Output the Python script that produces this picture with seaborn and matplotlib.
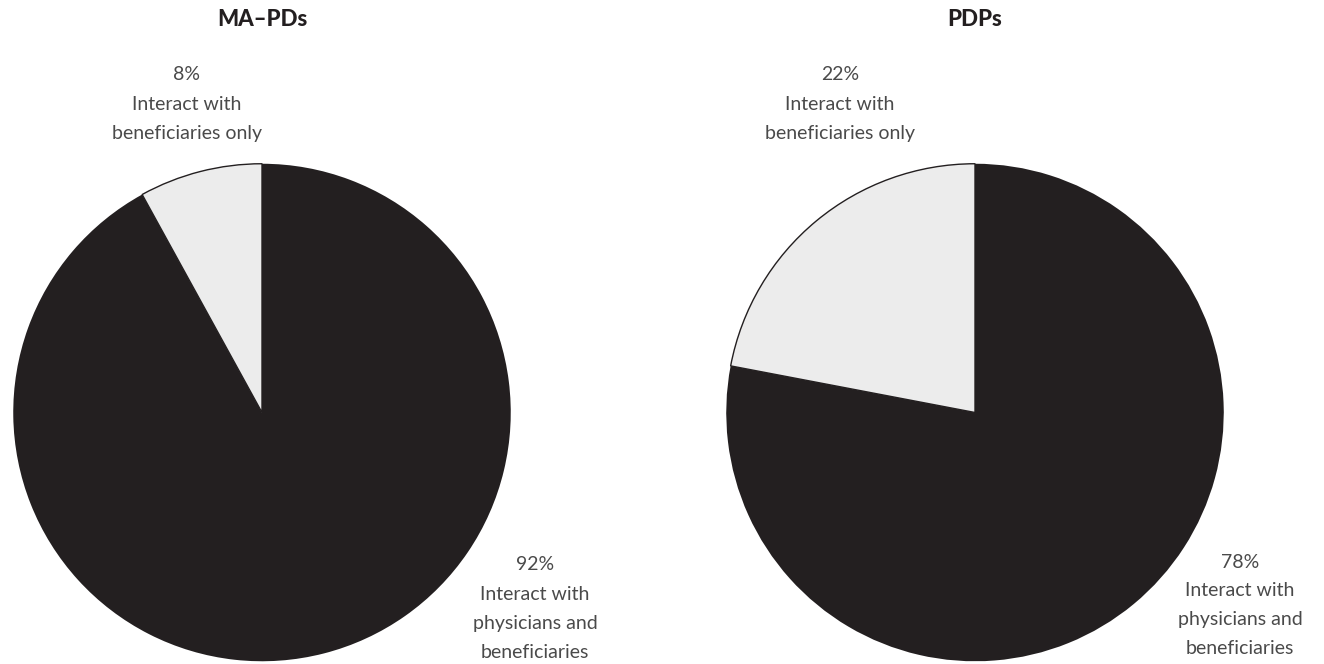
import matplotlib
matplotlib.use("Agg")
import matplotlib.pyplot as plt
import seaborn as sns

sns.set_theme(style="white")
plt.rcParams['font.family'] = ['Lato', 'DejaVu Sans']

titles = ["MA\u2013PDs", "PDPs"]
both_vals = [92, 78]
bene_vals = [8, 22]
both_label = "Interact with\nphysicians and\nbeneficiaries"
bene_label = "Interact with\nbeneficiaries only"

dark = "#231f20"
light = "#ececec"
txt = "#4a4a4a"

W, H = 1324, 664
fig = plt.figure(figsize=(W / 100, H / 100), dpi=100)

centers = [(262, 412.5), (975, 412.5)]
R = 250
top_label_x = [187, 840]
bot_label_x = [535, 1240]

for i in range(2):
    cx, cy = centers[i]
    ax = fig.add_axes([(cx - R) / W, (H - cy - R) / H, 2 * R / W, 2 * R / H])
    wedges, _ = ax.pie([both_vals[i], bene_vals[i]], colors=[dark, light],
                       startangle=90, counterclock=False, radius=1,
                       wedgeprops=dict(linewidth=0))
    wedges[1].set_edgecolor(dark)
    wedges[1].set_linewidth(1.0)
    ax.set_xlim(-1.005, 1.005)
    ax.set_ylim(-1.005, 1.005)
    ax.set_aspect('equal')
    ax.axis('off')

    fig.text(cx / W, 1 - 20 / H, titles[i], ha='center', va='center',
             fontsize=16, fontweight='black', color=dark)

    # top label (small slice)
    tx = top_label_x[i]
    fig.text(tx / W, 1 - 75 / H, f"{bene_vals[i]}%", ha='center', va='center',
             fontsize=14, fontweight='normal', color=txt)
    for j, line in enumerate(bene_label.split("\n")):
        fig.text(tx / W, 1 - (105 + 29 * j) / H, line, ha='center', va='center',
                 fontsize=14, fontweight='normal', color=txt)

    # bottom label (big slice)
    bx = bot_label_x[i]
    by0 = 565 if i == 0 else 562
    fig.text(bx / W, 1 - by0 / H, f"{both_vals[i]}%", ha='center', va='center',
             fontsize=14, fontweight='normal', color=txt)
    for j, line in enumerate(both_label.split("\n")):
        fig.text(bx / W, 1 - (by0 + 29 * (j + 1)) / H, line, ha='center', va='center',
                 fontsize=14, fontweight='normal', color=txt)

fig.savefig("out.png", dpi=100, facecolor="white")
